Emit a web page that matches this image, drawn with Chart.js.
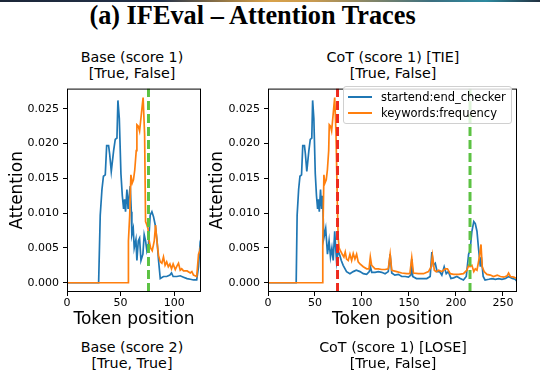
<!DOCTYPE html>
<html>
<head>
<meta charset="utf-8">
<title>IFEval – Attention Traces</title>
<script src="https://cdn.jsdelivr.net/npm/chart.js@4.4.0/dist/chart.umd.min.js"></script>
<style>
  html, body { margin: 0; padding: 0; background: #fff; }
  #page { position: relative; width: 540px; height: 372px; overflow: hidden; font-family: "DejaVu Sans", sans-serif; color: #000; }
  .strip { position: absolute; left: 0; top: 0; width: 540px; height: 2px;
    background: linear-gradient(to right, #1b2638 0%, #24324a 30%, #9a7a45 42%, #d9a24a 50%, #c89a50 58%, #3b6f80 80%, #2d8aa0 90%, #22303f 100%); }
  .main { position: absolute; left: 0; top: 1px; width: 505px; text-align: center;
    font: bold 26.3px "Liberation Serif", "Times New Roman", serif; }
  .sub { position: absolute; width: 240px; text-align: center; font-size: 14.3px; line-height: 16px; }
  canvas { position: absolute; }
  .legend { position: absolute; left: 343px; top: 86px; width: 167px; height: 36px;
    border: 1px solid #d0d0d0; border-radius: 3px; background: rgba(255,255,255,0.8); font-size: 11.5px; }
  .row { position: absolute; left: 0; height: 16px; line-height: 16px; white-space: nowrap; }
  .row span { position: absolute; left: 4px; top: 7px; width: 24px; height: 1.7px; }
  .row b { position: absolute; left: 37px; font-weight: normal; }
</style>
</head>
<body>
<div id="page">
  <div class="strip"></div>
  <div class="main">(a) IFEval – Attention Traces</div>

  <div class="sub" style="left:12px; top:49px">Base (score 1)<br>[True, False]</div>
  <div class="sub" style="left:273px; top:49px">CoT (score 1) [TIE]<br>[True, False]</div>

  <canvas id="baseChart" width="215" height="252" style="left:0; top:78px"></canvas>
  <canvas id="cotChart" width="340" height="252" style="left:200px; top:78px"></canvas>

  <div class="legend">
    <div class="row" style="top:2px"><span style="background:#1f77b4"></span><b>startend:end_checker</b></div>
    <div class="row" style="top:18px"><span style="background:#ff7f0e"></span><b>keywords:frequency</b></div>
  </div>

  <div class="sub" style="left:12px; top:339px">Base (score 2)<br>[True, True]</div>
  <div class="sub" style="left:273px; top:339px">CoT (score 1) [LOSE]<br>[True, False]</div>
</div>

<script>
// [token position, attention]
const baseEnd = [[0,0],[29.5,0],[31,0.0097],[32.6,0.0134],[34,0.0153],[35.7,0.0155],[37,0.0197],[38.8,0.0197],[39.8,0.0185],[41.3,0.016],[43.5,0.019],[45,0.0206],[46.6,0.0208],[47.5,0.0262],[48.8,0.0236],[50.3,0.0157],[51.6,0.0125],[52.8,0.0106],[53.7,0.012],[54.6,0.0102],[55.9,0.0134],[57,0.0106],[58,0.0125],[59,0.0139],[60,0.0102],[60.5,0.0069],[61.8,0.0078],[62.7,0.005],[64.3,0.0062],[65.2,0.0032],[66.5,0.006],[67.7,0.0064],[69,0.0032],[70.8,0.0041],[72,0.0069],[73.3,0.006],[74.5,0.0046],[76,0.0055],[77.6,0.0097],[79.2,0.0102],[80.7,0.0095],[82.3,0.0083],[84,0.006],[85.4,0.0032],[87,0.0006],[90,0.0009],[93,0.0009],[96,0.0011],[97.5,0.0014],[99,0.0009],[102.5,0.0009],[105.6,0.001],[108.7,0.0008],[112,0.0006],[115,0.0005],[118,0.0004],[121,0.0004],[122.7,0.0023],[124,0.0053],[125,0.0045]];
const baseKw = [[0,0],[57,0],[57.3,0.006],[58.5,0.0097],[59.6,0.0155],[60.8,0.0143],[62,0.0148],[63.2,0.0162],[64.6,0.019],[65.2,0.0227],[66.5,0.0225],[67.7,0.0218],[68.6,0.0231],[70.2,0.0255],[71,0.0266],[72.4,0.0213],[73.3,0.0088],[74.5,0.0083],[75.5,0.0078],[76.7,0.006],[78,0.005],[79.5,0.0046],[81.4,0.006],[82.6,0.0083],[83.9,0.006],[85.4,0.0039],[87,0.003],[88.5,0.0028],[90,0.0037],[91.5,0.0025],[93,0.003],[94.5,0.0023],[96,0.0027],[97.5,0.002],[99,0.0027],[101,0.0019],[102.5,0.0024],[104,0.0028],[105.6,0.0018],[107,0.002],[108.7,0.0017],[112,0.0017],[115,0.0014],[116.5,0.0016],[118,0.0011],[119.5,0.001],[121,0.0009],[122.7,0.0041],[124,0.0046],[125,0.0055]];
const cotEnd = [[0,0],[30,0],[31,0.0097],[32.6,0.0134],[34,0.0153],[35.7,0.0155],[37,0.0197],[38.8,0.0197],[39.8,0.0185],[41.3,0.016],[43.5,0.019],[45,0.0206],[46.6,0.0208],[47.5,0.0262],[48.8,0.0236],[50.3,0.0157],[51.6,0.0125],[52.8,0.0106],[53.7,0.012],[54.6,0.0102],[55.9,0.0134],[57,0.0106],[58,0.0125],[59.4,0.0064],[61.4,0.0078],[63.3,0.0041],[65,0.006],[66.5,0.0037],[68,0.005],[69.4,0.0032],[71,0.0074],[73,0.003],[74.7,0.0046],[76.5,0.0039],[78,0.0032],[80,0.0025],[83.6,0.0016],[87.2,0.0013],[90.7,0.0016],[94,0.0018],[97.9,0.0016],[101.4,0.0013],[105,0.0012],[107.8,0.0016],[109,0.0023],[110.4,0.0015],[114,0.0015],[117.4,0.0016],[121,0.0015],[124.6,0.0013],[128,0.0016],[130,0.0041],[131.7,0.0014],[135,0.0011],[138.8,0.0012],[142.3,0.0009],[146,0.0009],[149.5,0.0008],[152,0.0011],[153,0.0034],[154,0.0009],[158,0.0006],[162,0.0006],[165.5,0.0006],[169,0.0006],[172.6,0.0009],[174.4,0.0044],[176,0.0025],[178,0.0028],[180,0.0016],[182.6,0.0016],[185,0.0011],[187.5,0.0023],[189.7,0.0013],[192,0.0016],[194.7,0.0006],[197.5,0.0007],[201,0.0009],[204.6,0.0006],[208,0.0004],[211,0.0009],[213.5,0.0041],[215,0.0046],[217,0.0074],[219,0.0088],[220.6,0.0085],[222.4,0.0074],[224,0.005],[226,0.0023],[227,0.0037],[229,0.0009],[231,0.0004],[235,0.0005],[238.4,0.0006],[242,0.0005],[245.5,0.0006],[249,0.0005],[252.7,0.0006],[256,0.0009],[260,0.0006],[263,0.0005],[265,0.0002]];
const cotKw = [[0,0],[58,0],[58.3,0.006],[59.5,0.0155],[60.5,0.0143],[62,0.0148],[63.2,0.0162],[64.6,0.019],[65.2,0.0227],[66.5,0.0225],[67.7,0.0218],[68.6,0.0231],[70.2,0.0255],[71,0.0266],[72.4,0.0213],[73.7,0.012],[74.7,0.0064],[75.7,0.005],[77,0.0046],[79,0.0041],[80.8,0.0037],[82.2,0.0044],[83.6,0.0034],[85.4,0.0032],[87.2,0.0041],[89,0.0032],[90.7,0.0042],[92.5,0.0034],[94.3,0.0041],[96,0.003],[97.9,0.0027],[101.4,0.0023],[105,0.002],[107.5,0.002],[108.9,0.0037],[110.3,0.0025],[114,0.002],[117.4,0.002],[121,0.0019],[124.6,0.0019],[128,0.002],[130,0.0041],[131.7,0.0018],[137,0.0016],[142.3,0.0014],[147.7,0.0013],[151,0.0013],[153,0.0036],[154.8,0.0014],[160,0.0013],[165.5,0.0013],[170.8,0.0016],[173.7,0.0023],[175,0.0039],[177,0.0018],[179,0.0016],[181.5,0.0018],[185,0.0016],[188.6,0.002],[191,0.002],[194,0.0013],[197.5,0.0012],[203,0.0012],[208,0.0013],[211.7,0.0018],[213.5,0.0025],[215,0.0023],[217,0.0025],[219,0.0016],[220.6,0.002],[222.4,0.0018],[225,0.0037],[226.7,0.0055],[228,0.0023],[230,0.0016],[233,0.0012],[236.7,0.0011],[240,0.0009],[244,0.0011],[247.3,0.0009],[251,0.0008],[254.4,0.001],[256,0.0014],[258,0.0009],[261.6,0.0008],[265,0.0006]];

const yTicks = [0, 0.005, 0.01, 0.015, 0.02, 0.025];
const baseXTicks = [0, 50, 100];
const cotXTicks = [0, 50, 100, 150, 200, 250];
const baseMarks = [{ t: 76, color: '#5cc243' }];
const cotMarks = [{ t: 74, color: '#ee2a1e' }, { t: 215, color: '#5cc243' }];

const Y_MIN = -0.00133, Y_MAX = 0.0279;
const FONT = 'DejaVu Sans';

// matplotlib-like box round the plot area
const frame = {
  id: 'frame',
  afterDatasetsDraw(chart) {
    const a = chart.chartArea, c = chart.ctx;
    c.save();
    c.strokeStyle = '#000';
    c.lineWidth = 1;
    c.strokeRect(a.left + 0.5, a.top + 0.5, a.right - a.left - 1, a.bottom - a.top - 1);
    c.restore();
  }
};

function toXY(pts) { return pts.map(p => ({ x: p[0], y: p[1] })); }

function makeChart(id, endPts, kwPts, xMax, xTicks, marks, yWidth, padRight) {
  const datasets = marks.map(m => ({
    data: [{ x: m.t, y: Y_MIN }, { x: m.t, y: Y_MAX }],
    borderColor: m.color, borderWidth: 3, borderDash: [9, 4], order: 0
  }));
  datasets.push({ data: toXY(kwPts), borderColor: '#ff7f0e', borderWidth: 1.7, order: 1 });
  datasets.push({ data: toXY(endPts), borderColor: '#1f77b4', borderWidth: 1.7, order: 2 });

  const tickGrid = { display: true, drawOnChartArea: false, drawTicks: true, tickLength: 4, color: '#000', lineWidth: 1 };

  return new Chart(document.getElementById(id), {
    type: 'line',
    data: { datasets: datasets },
    options: {
      responsive: false,
      animation: false,
      parsing: false,
      elements: { point: { radius: 0 }, line: { tension: 0, fill: false } },
      layout: { padding: { top: 4, right: padRight, left: 0, bottom: 0 } },
      plugins: { legend: { display: false }, tooltip: { enabled: false } },
      scales: {
        x: {
          type: 'linear', min: 0, max: xMax,
          afterBuildTicks: s => { s.ticks = xTicks.map(v => ({ value: v })); },
          afterFit: s => { s.height = 38; },
          grid: tickGrid,
          border: { display: false },
          ticks: { color: '#000', font: { family: FONT, size: 11 }, padding: 1, maxRotation: 0, autoSkip: false },
          title: { display: true, text: 'Token position', color: '#000', font: { family: FONT, size: 17 }, padding: { top: 2.5, bottom: 0 } }
        },
        y: {
          type: 'linear', min: Y_MIN, max: Y_MAX,
          afterBuildTicks: s => { s.ticks = yTicks.map(v => ({ value: v })); },
          afterFit: s => { s.width = yWidth; },
          grid: tickGrid,
          border: { display: false },
          ticks: { color: '#000', font: { family: FONT, size: 11 }, padding: 4, callback: v => v.toFixed(3) },
          title: { display: true, text: 'Attention', color: '#000', font: { family: FONT, size: 17 }, padding: { top: 7, bottom: 0 } }
        }
      }
    },
    plugins: [frame]
  });
}

makeChart('baseChart', baseEnd, baseKw, 125, baseXTicks, baseMarks, 67, 14);
makeChart('cotChart', cotEnd, cotKw, 265, cotXTicks, cotMarks, 68, 23);
</script>
</body>
</html>
